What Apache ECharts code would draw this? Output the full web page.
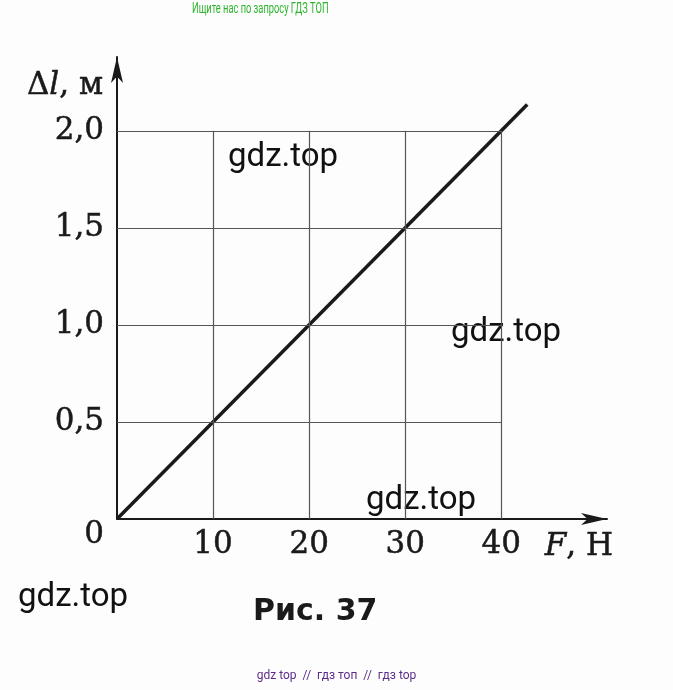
<!DOCTYPE html>
<html><head><meta charset="utf-8">
<script src="https://cdn.jsdelivr.net/npm/echarts@6/dist/echarts.min.js"></script>
<style>html,body{margin:0;padding:0;background:#fff}#c{width:673px;height:690px}</style>
</head><body><div id="c"></div>
<script>
// ---- data ----
const xTicks = [10, 20, 30, 40];            // labelled F ticks, Н
const yTicks = [0, 0.5, 1.0, 1.5, 2.0];     // labelled Δl ticks, м
const gridXLines = [10, 20, 30, 40];
const gridYLines = [0.5, 1.0, 1.5, 2.0];
const gridXMax = 40, gridYMax = 2.0;
const lineF = [0, 42.7];                    // F, Н
const lineDl = [0, 2.135];                  // Δl, м

const serif = '"DejaVu Serif", serif';
const ink = '#1a1a1a';
const heavy = {textBorderColor: ink, textBorderWidth: 0.5};

const gridLineData = [];
gridXLines.forEach(x => gridLineData.push([{coord: [x, 0]}, {coord: [x, gridYMax]}]));
gridYLines.forEach(y => gridLineData.push([{coord: [0, y]}, {coord: [gridXMax, y]}]));

const chart = echarts.init(document.getElementById('c'), null, {renderer: 'canvas'});
chart.setOption({
  animation: false,
  backgroundColor: '#fdfdfd',
  grid: {left: 117, top: 57, right: 66, bottom: 171, containLabel: false},
  xAxis: {
    type: 'value', min: 0, max: 51, interval: 10,
    name: '{i|F}{n|, Н}', nameLocation: 'end', nameGap: 6,
    nameTextStyle: {align: 'right', verticalAlign: 'top', padding: [12, 0, 0, 0],
      rich: {i: Object.assign({fontFamily: serif, fontStyle: 'italic', fontSize: 31, color: ink}, heavy),
             n: Object.assign({fontFamily: serif, fontSize: 31, color: ink}, heavy)}},
    axisLine: {show: true, symbol: ['none', 'arrow'], symbolSize: [9, 26],
      lineStyle: {color: ink, width: 2}},
    axisTick: {show: false},
    splitLine: {show: false},
    axisLabel: Object.assign({margin: 10, fontFamily: serif, fontSize: 31, color: ink,
      formatter: v => xTicks.indexOf(v) >= 0 ? String(v) : ''}, heavy)
  },
  yAxis: {
    type: 'value', min: 0, max: 2.38, interval: 0.5,
    name: '{n|Δ}{i|l}{n|, м}', nameLocation: 'end', nameGap: -29,
    nameTextStyle: {align: 'right', verticalAlign: 'middle', padding: [0, 14, 0, 0],
      rich: {i: Object.assign({fontFamily: serif, fontStyle: 'italic', fontSize: 31, color: ink}, heavy),
             n: Object.assign({fontFamily: serif, fontSize: 31, color: ink}, heavy)}},
    axisLine: {show: true, symbol: ['none', 'arrow'], symbolSize: [9, 26],
      lineStyle: {color: ink, width: 2}},
    axisTick: {show: false},
    splitLine: {show: false},
    axisLabel: Object.assign({margin: 13, fontFamily: serif, fontSize: 31, color: ink,
      formatter: v => {
        const k = yTicks.findIndex(t => Math.abs(t - v) < 1e-9);
        if (k < 0) return '';
        if (v === 0) return '{z|0}';
        return v.toFixed(1).replace('.', ',');
      },
      rich: {z: Object.assign({fontFamily: serif, fontSize: 31, color: ink, padding: [32, 0, 0, 0]}, heavy)}}, heavy)
  },
  series: [
    {type: 'line', data: [], z: 1, silent: true,
      markLine: {silent: true, symbol: ['none', 'none'], label: {show: false},
        lineStyle: {color: '#555', width: 1.2, type: 'solid'}, emphasis: {disabled: true},
        data: gridLineData}},
    {type: 'line', z: 3, silent: true, symbol: 'none',
      lineStyle: {color: ink, width: 3.5},
      data: lineF.map((f, i) => [f, lineDl[i]])}
  ],
  graphic: [
    {type: 'text', x: 192, y: 2, scaleX: 0.62, style: {text: 'Ищите нас по запросу ГДЗ ТОП',
      fill: '#2db32d', font: '15px "Roboto"'}},
    {type: 'text', x: 228, y: 141, style: {text: 'gdz.top', fill: '#111', font: '33px "Roboto"'}},
    {type: 'text', x: 451, y: 316, style: {text: 'gdz.top', fill: '#111', font: '33px "Roboto"'}},
    {type: 'text', x: 366, y: 484, style: {text: 'gdz.top', fill: '#111', font: '33px "Roboto"'}},
    {type: 'text', x: 18, y: 581, style: {text: 'gdz.top', fill: '#111', font: '33px "Roboto"'}},
    {type: 'text', x: 253, y: 597, style: {text: 'Рис. 37', fill: '#1a1a1a', font: 'bold 30px "DejaVu Sans"'}},
    {type: 'text', left: 'center', top: 670, style: {text: 'gdz top  //  гдз топ  //  гдз top',
      fill: '#5b2c8c', font: '12px "Roboto"'}}
  ]
});
</script></body></html>
